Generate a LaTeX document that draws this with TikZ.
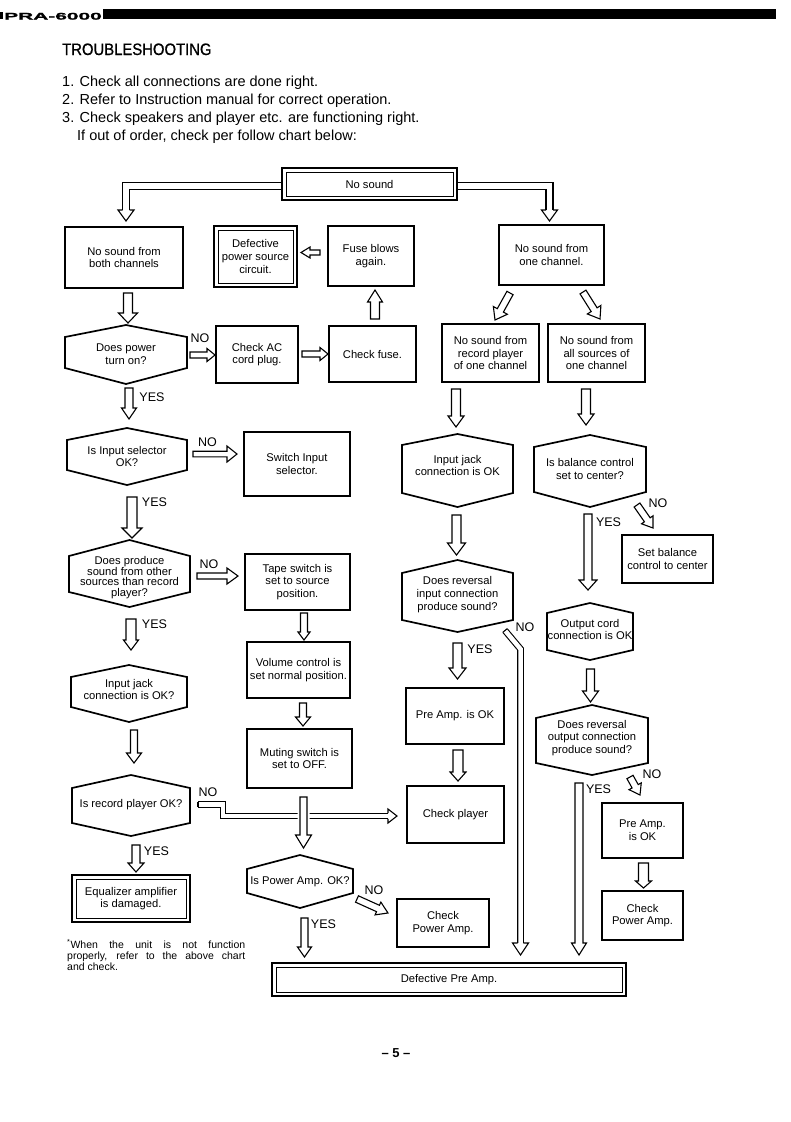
\documentclass[tikz,border=0pt]{standalone}
\usepackage{fontspec}
\setmainfont{Liberation Sans}
\newfontfamily\hdrfont[FakeStretch=2.2,FakeBold=2]{Liberation Sans}
\newfontfamily\ttlfont[FakeStretch=0.9,FakeBold=0.8]{Liberation Sans}
\newcommand\chf{\fontsize{11.2}{12.8}\selectfont}
\usetikzlibrary{calc}

\pgfkeys{/har/.cd, s/.store in=\arS, w/.store in=\arW, l/.store in=\arL, extra/.store in=\arX}

% straight hollow block arrow
\newcommand\har[3][]{%
  \begingroup
  \pgfkeys{/har/.cd,s=4,w=8.5,l=11,extra={},#1}%
  \coordinate (hA) at #2;
  \coordinate (hB) at #3;
  \coordinate (hH) at ($(hB)!\arL pt!(hA)$);
  \expandafter\path\expandafter[\arX]
    ($(hA)!\arS pt!90:(hB)$) -- ($(hH)!\arS pt!90:(hB)$) -- ($(hH)!\arW pt!90:(hB)$) -- (hB) -- ($(hH)!\arW pt!-90:(hB)$) -- ($(hH)!\arS pt!-90:(hB)$) -- ($(hA)!\arS pt!-90:(hB)$) -- cycle;
  \path[arr] ($(hA)!\arS pt!90:(hB)$) -- ($(hH)!\arS pt!90:(hB)$) -- ($(hH)!\arW pt!90:(hB)$) -- (hB) -- ($(hH)!\arW pt!-90:(hB)$) -- ($(hH)!\arS pt!-90:(hB)$) -- ($(hA)!\arS pt!-90:(hB)$) -- cycle;
  \endgroup}

% bent hollow block arrow: #2 path up to last corner, #3 last corner, #4 tip
\newcommand\bentarr[4][]{%
  \begingroup
  \pgfkeys{/har/.cd,s=3,w=8,l=11,#1}%
  \coordinate (hC) at #3;
  \coordinate (hB) at #4;
  \coordinate (hH) at ($(hB)!\arL pt!(hC)$);
  \pgfmathsetlengthmacro\arD{2*\arS pt-1.1pt}%
  \draw[line width=1.1pt, double=white, double distance=\arD, line join=miter] #2 -- (hH);
  \fill[white] ($(hH)!\arW pt!90:(hB)$) -- (hB) -- ($(hH)!\arW pt!-90:(hB)$) -- cycle;
  \draw[line width=1.1pt, line join=miter] ($(hH)!\arS pt!90:(hB)$) -- ($(hH)!\arW pt!90:(hB)$) -- (hB) -- ($(hH)!\arW pt!-90:(hB)$) -- ($(hH)!\arS pt!-90:(hB)$);
  \endgroup}

\newcommand\bx[6]{%
  \pgfmathsetmacro\bxc{(#2+#4)/2}\pgfmathsetmacro\byc{(#3+#5)/2}%
  \pgfmathsetmacro\bwd{#4-#2}\pgfmathsetmacro\bht{#5-#3}%
  \node[box, minimum width=\bwd pt, minimum height=\bht pt] (#1) at (\bxc,\byc) {#6};}

\newcommand\dbx[6]{%
  \bx{#1}{#2}{#3}{#4}{#5}{#6}%
  \draw[line width=0.9pt] ($(#1.north west)+(4,4)$) rectangle ($(#1.south east)+(-4,-4)$);}

\newcommand\hexnode[9]{%
  \pgfmathsetmacro\bxc{(#2+#3)/2}\pgfmathsetmacro\byc{(#4+#7)/2}%
  \pgfmathsetmacro\bwd{#3-#2}\pgfmathsetmacro\bht{#7-#4}%
  \node[hexq, minimum width=\bwd pt, minimum height=\bht pt] (#1) at (\bxc,\byc) {};
  \draw[hexline] (#1.north) -- (#3,#5) -- (#3,#6) -- (#1.south) -- (#2,#6) -- (#2,#5) -- cycle;
  \node[txt] (#1t) at ($(#1.center)+(0,#8)$) {#9};}

\begin{document}
\begin{tikzpicture}[x=1pt,y=-1pt,
  box/.style={draw, line width=1.7pt, fill=white, inner sep=1pt, outer sep=0pt, align=center, font=\chf},
  hexq/.style={draw=none, rectangle, inner sep=0pt, outer sep=0pt},
  hexline/.style={draw, line width=1.7pt, line join=miter, fill=white},
  txt/.style={align=center, inner sep=0pt, font=\chf},
  arr/.style={draw, line width=1.1pt, fill=white, line join=miter},
  halo/.style={draw=white, line width=5pt},
  lbl/.style={inner sep=0pt, font=\fontsize{12.5}{14}\selectfont},
  lst/.style={anchor=base west, inner sep=0pt, font=\fontsize{14.5}{16}\selectfont},
  foot/.style={anchor=base west, inner sep=0pt, font=\fontsize{10.5}{11}\selectfont}]

\fill[white] (0,0) rectangle (791,1122);
\useasboundingbox (0,0) rectangle (791,1122);

% header
\fill (0,12) rectangle (3,18.5);
\node[anchor=base west, inner sep=0pt, font=\hdrfont\bfseries\fontsize{9.5}{10}\selectfont] (hdr) at (4,19.5) {PRA-6000};
\fill (103,9) rectangle (776,18.5);

\node[anchor=base west, inner sep=0pt, font=\ttlfont\fontsize{16.5}{18}\selectfont] (ttl) at (62,55) {TROUBLESHOOTING};
\node[lst] (l1) at (62,86) {1. Check all connections are done right.};
\node[lst] (l2) at (62,104) {2. Refer to Instruction manual for correct operation.};
\node[lst] (l3) at (62,122) {3. Check speakers and player etc. are functioning right.};
\node[lst] (l4) at (77,140) {If out of order, check per follow chart below:};

% boxes
\dbx{ns}{282}{168}{457}{200}{No sound}
\bx{bboth}{65}{227}{183}{288}{No sound from\\both channels}
\dbx{bdps}{214}{226}{297}{287}{Defective\\power source\\circuit.}
\bx{bfa}{328}{226}{414}{286}{Fuse blows\\again.}
\bx{bone}{499}{225}{604}{285}{No sound from\\one channel.}
\bx{bac}{216}{326}{298}{383}{Check AC\\cord plug.}
\bx{bfuse}{329}{326}{416}{382}{Check fuse.}
\bx{brp}{442}{324}{539}{382}{No sound from\\record player\\of one channel}
\bx{bas}{548}{324}{645}{382}{No sound from\\all sources of\\one channel}
\bx{bsw}{244}{432}{350}{496}{Switch Input\\selector.}
\bx{bsb}{622}{535}{713}{583}{Set balance\\control to center}
\bx{btape}{245}{554}{350}{610}{Tape switch is\\set to source\\position.}
\bx{bvol}{247}{642}{350}{698}{Volume control is\\set normal position.}
\bx{bpok}{406}{688}{504}{744}{Pre Amp. is OK}
\bx{bmute}{247}{729}{352}{788}{Muting switch is\\set to OFF.}
\bx{bcp}{407}{786}{504}{843}{Check player}
\bx{bpok2}{602}{803}{683}{858}{Pre Amp.\\is OK}
\dbx{beq}{72}{875}{190}{922}{Equalizer amplifier\\is damaged.}
\bx{bcpa}{397}{899}{489}{947}{Check\\Power Amp.}
\bx{bcpa2}{602}{891}{683}{940}{Check\\Power Amp.}
\dbx{bdpre}{272}{963}{626}{996}{Defective Pre Amp.}

% decision hexagons
\hexnode{hpow}{65}{187}{325}{337}{368}{384}{0}{Does power\\turn on?}
\hexnode{hsel}{67}{187}{428}{440}{470}{485}{0}{Is Input selector\\OK?}
\hexnode{hpro}{69}{190}{540}{556}{592}{607}{4}{Does produce\\[-2pt]sound from other\\[-2pt]sources than record\\[-2pt]player?}
\hexnode{hjkL}{71}{187}{665}{677}{707}{722}{-4}{Input jack\\connection is OK?}
\hexnode{hrec}{72}{190}{775}{788}{823}{836}{-1}{Is record player OK?}
\hexnode{hpa}{247}{353}{855}{869}{893}{908}{0}{Is Power Amp. OK?}
\hexnode{hjkR}{402}{513}{434}{445}{493}{507}{-5}{Input jack\\connection is OK}
\hexnode{hbal}{534}{646}{435}{447}{492}{507}{-2}{Is balance control\\set to center?}
\hexnode{hrev}{402}{513}{560}{573}{620}{632}{-1.5}{Does reversal\\input connection\\produce sound?}
\hexnode{hout}{547}{633}{603}{613}{650}{660}{-2}{Output cord\\connection is OK}
\hexnode{hrvo}{536}{648}{705}{718}{763}{775}{-2}{Does reversal\\output connection\\produce sound?}

% branches from "No sound"
\coordinate (nL) at ($(ns.west)+(-0.9,2)$);
\coordinate (tL) at ($(bboth.north)+(2,-6)$);
\bentarr[s=3.5,w=8,l=11]{(nL) -- (nL -| tL)}{(nL -| tL)}{(tL)}
\coordinate (nR) at ($(ns.east)+(0.9,2)$);
\coordinate (tR) at ($(bone.north)+(-2,-4)$);
\bentarr[s=3.5,w=8,l=11]{(nR) -- (nR -| tR)}{(nR -| tR)}{(tR)}

% left column arrows
\har[s=4.5,w=9.5,l=10]{($(bboth.south)+(4,5)$)}{($(hpow.north)+(2,-2)$)}
\har[s=2.5,w=5.5,l=9]{($(bfa.west)+(-8,-3.5)$)}{($(bdps.east)+(4,-4)$)}
\har[s=4.5,w=7.5,l=12]{($(bfuse.north)+(2.5,-7)$)}{($(bfa.south)+(4,4)$)}
\har[s=3,w=6.5,l=8]{($(hpow.east)+(3,0.5)$)}{($(bac.west)+(-1,0.5)$)}
\har[s=3,w=6.5,l=8]{($(bac.east)+(4,-0.5)$)}{($(bfuse.west)+(-1,0)$)}
\har[s=4,w=7.5,l=11]{($(hpow.south)+(3,4)$)}{($(hsel.north)+(2,-9)$)}
\har[s=2.8,w=8,l=10]{($(hsel.east)+(6,-2.5)$)}{($(bsw.west)+(-7,-10)$)}
\har[s=5,w=10,l=10]{($(hsel.south)+(5,12)$)}{($(hpro.north)+(2.5,-2)$)}
\har[s=3,w=8,l=11]{($(hpro.east)+(7,2.5)$)}{($(btape.west)+(-7,-6)$)}
\har[s=5,w=7.5,l=10]{($(hpro.south)+(1.5,12)$)}{($(hjkL.north)+(2,-15)$)}
\har[s=3.5,w=6,l=8]{($(btape.south)+(6.5,3)$)}{($(bvol.north)+(5.5,-2)$)}
\har[s=3.5,w=7.5,l=9]{($(bvol.south)+(4.5,5)$)}{($(bmute.north)+(3.5,-3)$)}
\har[s=3.5,w=7.5,l=10]{($(hjkL.south)+(5,8)$)}{($(hrec.north)+(3,-12)$)}
\har[s=4,w=8,l=9]{($(hrec.south)+(5,9)$)}{($(beq.north)+(5,-3)$)}

% NO from record player, with a step, to Check player
\coordinate (jS) at ($(hrec.east)+(8,-1)$);
\coordinate (jT) at ($(bcp.west)+(-10,1.5)$);
\coordinate (jC) at ($(jS)+(25,0)$);
\bentarr[s=2.8,w=7,l=9]{(jS) -- (jC) -- (jC |- jT)}{(jC |- jT)}{(jT)}
\draw[line width=1.1pt, line cap=square] ($(jS)+(0,-2.8)$) -- ($(jS)+(0,2.8)$);

\har[s=3.5,w=8,l=13,extra=halo]{($(bmute.south)+(4,9)$)}{($(hpa.north)+(3.5,-7)$)}
\har[s=3.5,w=7,l=11]{($(hpa.east)+(4,17.5)$)}{($(bcpa.west)+(-9,-10)$)}
\har[s=3.5,w=7,l=10]{($(hpa.south)+(4.5,10)$)}{($(bdpre.north west)+(32.5,-6)$)}

% right side arrows
\har[s=3.5,w=8,l=11]{($(bone.south)+(-41.5,8)$)}{($(brp.north)+(4.5,-4)$)}
\har[s=3.5,w=8,l=11]{($(bone.south)+(31.5,7)$)}{($(bas.north)+(3.5,-5)$)}
\har[s=4.5,w=8,l=11]{($(brp.south)+(-34.5,7)$)}{($(hjkR.north)+(-1.5,-7)$)}
\har[s=4.5,w=8,l=11]{($(bas.south)+(-10.5,7)$)}{($(hbal.north)+(-4,-10)$)}
\har[s=4.5,w=9,l=12]{($(hjkR.south)+(-1,8)$)}{($(hrev.north)+(-1,-5)$)}
\har[s=4,w=9,l=10]{($(hbal.south)+(-2,7)$)}{($(hout.north)+(-2,-13)$)}
\har[s=3.5,w=7,l=10]{($(hbal.east)+(-9,34)$)}{($(bsb.north)+(-14.5,-7)$)}
\har[s=4.5,w=8.5,l=11]{($(hrev.south)+(0,11)$)}{($(bpok.north)+(2.5,-9)$)}
\har[s=4,w=8,l=11]{($(hout.south)+(0.5,9)$)}{($(hrvo.north)+(-1.5,-3)$)}
\har[s=5,w=8,l=9]{($(bpok.south)+(3,6)$)}{($(bcp.north)+(2.5,-5)$)}
\har[s=4,w=7.5,l=12]{($(hrvo.south)+(-13,8)$)}{($(bdpre.north east)+(-47,-8)$)}
\har[s=3.5,w=7,l=10]{($(hrvo.south)+(38,2)$)}{($(bpok2.north)+(-2.5,-8)$)}
\har[s=5,w=8,l=7]{($(bpok2.south)+(1,5)$)}{($(bcpa2.north)+(1,-3)$)}

% NO from reversal input connection, long down to Defective Pre Amp
\coordinate (rS) at ($(hrev.east)+(-8,34.5)$);
\coordinate (rT) at ($(bdpre.north east)+(-105.5,-8)$);
\coordinate (rC) at ($(rT |- rS)+(0,18.5)$);
\bentarr[s=2.8,w=8,l=12]{(rS) -- (rC)}{(rC)}{(rT)}
\draw[line width=1.1pt, line cap=square] ($(rS)!2.8pt!90:(rC)$) -- ($(rS)!2.8pt!-90:(rC)$);

% YES / NO labels
\node[lbl] (n1) at (200,338.5) {NO};
\node[lbl] (y1) at (152,397.5) {YES};
\node[lbl] (n2) at (207.5,442.5) {NO};
\node[lbl] (y2) at (154.5,502.5) {YES};
\node[lbl] (n3) at (209,564.5) {NO};
\node[lbl] (y3) at (154.5,624.5) {YES};
\node[lbl] (n4) at (208,792) {NO};
\node[lbl] (y4) at (156.5,851.5) {YES};
\node[lbl] (n5) at (374,890.5) {NO};
\node[lbl] (y5) at (323.5,924) {YES};
\node[lbl] (n6) at (525,627.5) {NO};
\node[lbl] (y6) at (480,649.5) {YES};
\node[lbl] (y7) at (608.5,522) {YES};
\node[lbl] (n7) at (658,503) {NO};
\node[lbl] (y8) at (598.5,789.5) {YES};
\node[lbl] (n8) at (652,774.5) {NO};

% footnote
\node[foot] (f1) at (67,948) {\makebox[178pt][s]{\textsuperscript{*}When the unit is not function}};
\node[foot] (f2) at (67,959) {\makebox[178pt][s]{properly, refer to the above chart}};
\node[foot] (f3) at (67,970) {and check.};

% page number
\node[inner sep=0pt, font=\bfseries\fontsize{13}{15}\selectfont] (pg) at (396,1053) {– 5 –};
\end{tikzpicture}
\end{document}
